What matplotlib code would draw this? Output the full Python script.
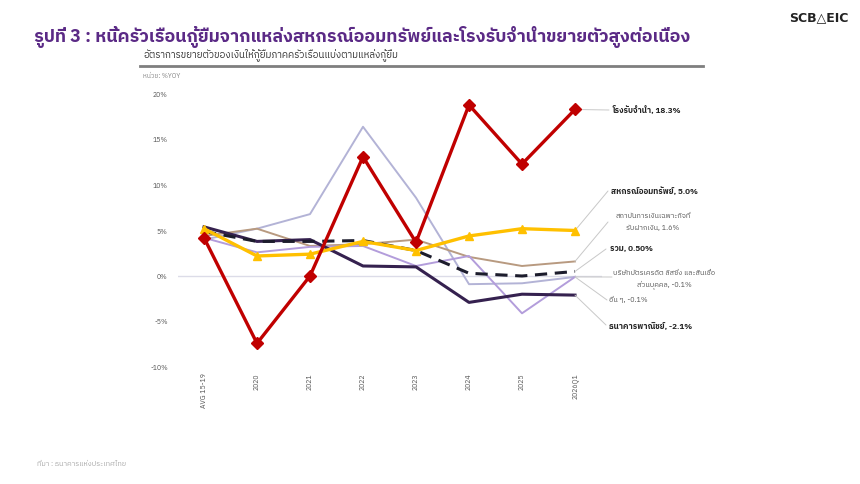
import matplotlib
matplotlib.use("Agg")
import matplotlib.pyplot as plt
from matplotlib import font_manager
from matplotlib.ft2font import FT2Font

# ---------------- data ----------------
categories = ["AVG 15-19", "2020", "2021", "2022", "2023", "2024", "2025", "2026Q1"]
pawnshop = [4.2, -7.4, 0.0, 13.1, 3.7, 18.8, 12.3, 18.3]
coop = [5.2, 2.2, 2.4, 3.8, 2.8, 4.4, 5.2, 5.0]
sfi = [4.4, 5.2, 3.3, 3.5, 4.0, 2.1, 1.1, 1.6]
credit_card = [4.0, 5.2, 6.8, 16.4, 8.6, -0.9, -0.8, -0.1]
others = [4.2, 2.6, 3.2, 3.3, 1.1, 2.2, -4.1, -0.1]
banks = [5.4, 3.8, 4.0, 1.1, 1.0, -2.9, -2.0, -2.1]
total = [4.9, 3.8, 3.8, 3.9, 2.8, 0.3, 0.0, 0.5]
yticks = [-10, -5, 0, 5, 10, 15, 20]

title = "รูปที่ 3 : หนี้ครัวเรือนกู้ยืมจากแหล่งสหกรณ์ออมทรัพย์และโรงรับจำนำขยายตัวสูงต่อเนื่อง"
subtitle = "อัตราการขยายตัวของเงินให้กู้ยืมภาคครัวเรือนแบ่งตามแหล่งกู้ยืม"
unit = "หน่วย: %YOY"
source = "ที่มา : ธนาคารแห่งประเทศไทย"
lbl_pawn = "โรงรับจำนำ, 18.3%"
lbl_coop = "สหกรณ์ออมทรัพย์, 5.0%"
lbl_sfi = "สถาบันการเงินเฉพาะกิจที่\nรับฝากเงิน, 1.6%"
lbl_total = "รวม, 0.50%"
lbl_cc = "บริษัทบัตรเครดิต ลิสซิ่ง และสินเชื่อ\nส่วนบุคคล, -0.1%"
lbl_oth = "อื่น ๆ, -0.1%"
lbl_bank = "ธนาคารพาณิชย์, -2.1%"

# ---------------- find a Thai-capable font ----------------
thai_fams = []
for fe in font_manager.fontManager.ttflist:
    try:
        cm = FT2Font(fe.fname).get_charmap()
        if 0x0E01 in cm and fe.name not in thai_fams:
            thai_fams.append(fe.name)
    except Exception:
        pass
pref = [f for f in thai_fams if "Thai" in f] + [f for f in thai_fams if "Thai" not in f]
families = pref[:2] + ["DejaVu Sans"]
plt.rcParams["font.family"] = families

# ---------------- figure ----------------
W, H = 860, 484
fig = plt.figure(figsize=(W / 100, H / 100), dpi=100)
fig.patch.set_facecolor("white")

def fx(px):
    return px / W

def fy(py):
    return 1 - py / H

ax = fig.add_axes([fx(177.5), fy(367), fx(601.5) - fx(177.5), fy(94) - fy(367)])
x = list(range(len(categories)))

c_red = "#c00000"
c_yel = "#ffc000"
c_tan = "#b89a80"
c_gry = "#b3b3d6"
c_pur = "#b39ddb"
c_nav = "#35214f"
c_blk = "#1c1c2c"

ax.plot(x, credit_card, color=c_gry, lw=1.4, zorder=2)
ax.plot(x, sfi, color=c_tan, lw=1.4, zorder=2)
ax.plot(x, others, color=c_pur, lw=1.4, zorder=2)
ax.plot(x, banks, color=c_nav, lw=2.2, zorder=3)
ax.plot(x, total, color=c_blk, lw=2.2, ls=(0, (4, 2.5)), zorder=4)
ax.plot(x, coop, color=c_yel, lw=2.4, marker="^", ms=6, zorder=5)
ax.plot(x, pawnshop, color=c_red, lw=2.4, marker="D", ms=6, zorder=6)

ax.set_xlim(-0.5, len(categories) - 0.5)
ax.set_ylim(-10, 20)
ax.axhline(0, color="#dcdce8", lw=1.0, zorder=1)
ax.set_yticks(yticks)
ax.set_yticklabels([f"{v}%" for v in yticks], fontsize=5.0, color="#555555")
ax.set_xticks(x)
ax.set_xticklabels(categories, rotation=90, fontsize=5.0, color="#555555")
ax.tick_params(axis="y", length=0, pad=7)
ax.tick_params(axis="x", length=0, pad=4.5)
for s in ax.spines.values():
    s.set_visible(False)

# ---------------- right-hand labels with leader lines ----------------
last = len(categories) - 1

def leader(yval, tx, ty):
    ax.annotate("", xy=(last, yval), xycoords="data",
                xytext=(fx(tx), fy(ty)), textcoords="figure fraction",
                arrowprops=dict(arrowstyle="-", color="#c8c8c8", lw=0.7,
                                shrinkA=0, shrinkB=0), annotation_clip=False)

leader(pawnshop[-1], 609, 110)
leader(coop[-1], 608, 191)
leader(sfi[-1], 608, 222)
leader(total[-1], 606, 249)
leader(credit_card[-1], 612, 277)
leader(others[-1], 607, 300)
leader(banks[-1], 606, 325)

fig.text(fx(612), fy(110), lbl_pawn, fontsize=5.9, fontweight="bold", color="#222222", va="center")
fig.text(fx(611), fy(191), lbl_coop, fontsize=5.9, fontweight="bold", color="#222222", va="center")
fig.text(fx(653), fy(222), lbl_sfi, fontsize=5.2, color="#555555", va="center", ha="center",
         multialignment="center", linespacing=1.8)
fig.text(fx(610), fy(249), lbl_total, fontsize=5.9, fontweight="bold", color="#222222", va="center")
fig.text(fx(664), fy(279), lbl_cc, fontsize=5.2, color="#555555", va="center", ha="center",
         multialignment="center", linespacing=1.6)
fig.text(fx(609), fy(300), lbl_oth, fontsize=5.2, color="#555555", va="center")
fig.text(fx(609), fy(326), lbl_bank, fontsize=5.9, fontweight="bold", color="#222222", va="center")

# ---------------- titles ----------------
fig.text(fx(34), fy(37), title, fontsize=12.8, fontweight="bold", color="#5b2a86", va="center")
fig.text(fx(143), fy(55), subtitle, fontsize=7.0, color="#333333", va="center")
fig.add_artist(plt.Line2D([fx(140), fx(703)], [fy(66), fy(66)], color="#7f7f7f", lw=2.0))
fig.text(fx(143), fy(76), unit, fontsize=4.8, color="#888888", va="center")
fig.text(fx(37), fy(464), source, fontsize=5.3, color="#aaaaaa", va="center")
fig.text(fx(849), fy(18), "SCB\u25B3EIC", fontsize=9, fontweight="bold", color="#222222",
         va="center", ha="right", family="DejaVu Sans")

fig.savefig("out.png", dpi=100, facecolor="white")
